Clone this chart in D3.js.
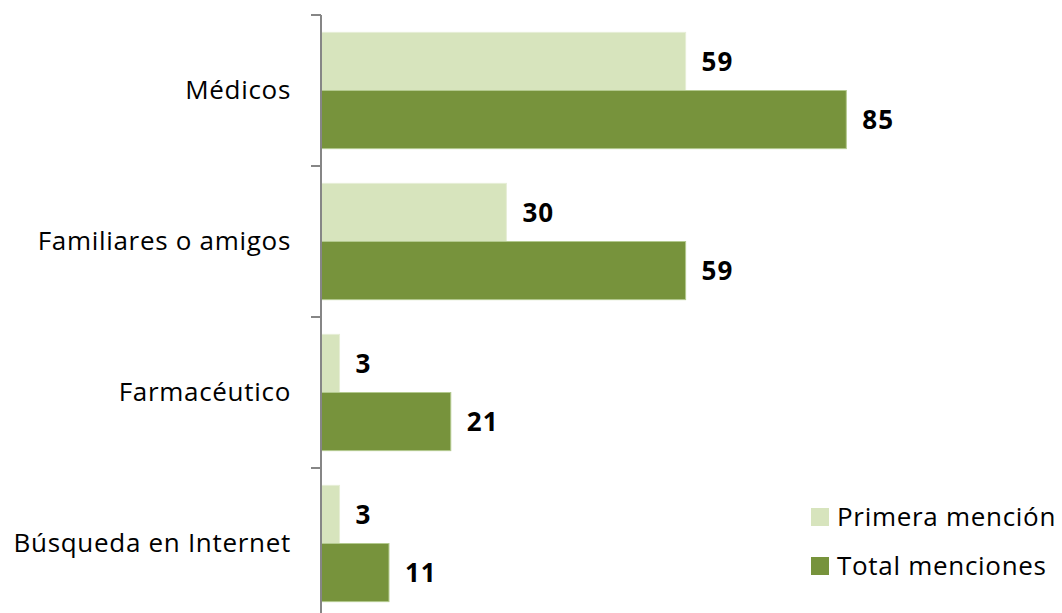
<!DOCTYPE html>
<html>
<head>
<meta charset="utf-8">
<script src="https://cdn.jsdelivr.net/npm/d3@7"></script>
<style>
  html, body { margin: 0; padding: 0; background: #fff; }
  svg { display: block; font-family: "Open Sans", sans-serif; }
</style>
</head>
<body>
<svg id="chart" width="1062" height="613"></svg>
<script>
// Categories, top to bottom
const categories = ["Médicos", "Familiares o amigos", "Farmacéutico", "Búsqueda en Internet"];
// Series values
const primeraMencion = [59, 30, 3, 3];
const totalMenciones = [85, 59, 21, 11];
const seriesNames = ["Primera mención", "Total menciones"];
const seriesColors = ["#d7e4bd", "#77933c"];

const font = "'Open Sans', sans-serif";
const labelSize = 26;
const labelSpacing = "0.7px";

const svg = d3.select("#chart");
const axisX = 321;
const plotTop = 15, bandH = 151;

const y = d3.scaleBand()
  .domain(categories)
  .range([plotTop, plotTop + bandH * categories.length])
  .paddingInner(0.23)
  .paddingOuter(0.115);

const ySub = d3.scaleBand()
  .domain(seriesNames)
  .range([0, y.bandwidth()]);

const x = d3.scaleLinear().domain([0, 100]).range([axisX, axisX + 618]);

const rows = categories.map((c, i) => ({ cat: c, vals: [primeraMencion[i], totalMenciones[i]] }));

const g = svg.append("g");
const groups = g.selectAll("g.cat").data(rows).join("g")
  .attr("class", "cat")
  .attr("transform", d => `translate(0,${y(d.cat)})`);

groups.selectAll("rect").data(d => d.vals.map((v, k) => ({ v, k }))).join("rect")
  .attr("x", x(0))
  .attr("y", d => ySub(seriesNames[d.k]))
  .attr("width", d => x(d.v) - x(0))
  .attr("height", ySub.bandwidth())
  .attr("fill", d => seriesColors[d.k])
  .attr("stroke", d => d.k === 0 ? "#e6eed6" : "#b3c98e")
  .attr("stroke-width", 1);

groups.selectAll("text.val").data(d => d.vals.map((v, k) => ({ v, k }))).join("text")
  .attr("class", "val")
  .attr("x", d => x(d.v) + 16)
  .attr("y", d => ySub(seriesNames[d.k]) + ySub.bandwidth() / 2)
  .attr("dy", "0.36em")
  .attr("font-size", labelSize)
  .attr("font-weight", "bold")
  .attr("letter-spacing", "1px")
  .attr("fill", "#000")
  .text(d => d.v);

// Category axis
const yAxis = d3.axisLeft(y).tickSize(0).tickPadding(30);
const axG = svg.append("g").attr("transform", `translate(${axisX},0)`).call(yAxis);
axG.select(".domain").remove();
axG.selectAll("text")
  .attr("font-size", labelSize)
  .attr("letter-spacing", labelSpacing)
  .attr("fill", "#000")
  .attr("font-family", font);

// Axis line with tick marks between categories
const boundaries = d3.range(categories.length + 1).map(i => plotTop + i * bandH);
svg.append("line")
  .attr("x1", axisX).attr("x2", axisX)
  .attr("y1", plotTop).attr("y2", plotTop + bandH * categories.length)
  .attr("stroke", "#868686").attr("stroke-width", 2);
svg.selectAll("line.tick").data(boundaries).join("line")
  .attr("class", "tick")
  .attr("x1", axisX - 10).attr("x2", axisX)
  .attr("y1", d => d).attr("y2", d => d)
  .attr("stroke", "#868686").attr("stroke-width", 2);

// Legend
const legend = svg.append("g").attr("transform", "translate(811,508)");
const li = legend.selectAll("g").data(seriesNames).join("g")
  .attr("transform", (d, i) => `translate(0,${i * 49})`);
li.append("rect").attr("width", 18).attr("height", 18).attr("fill", (d, i) => seriesColors[i]);
li.append("text").attr("x", 26).attr("y", 9).attr("dy", "0.36em")
  .attr("font-size", labelSize).attr("letter-spacing", labelSpacing)
  .attr("fill", "#000").text(d => d);
</script>
</body>
</html>
